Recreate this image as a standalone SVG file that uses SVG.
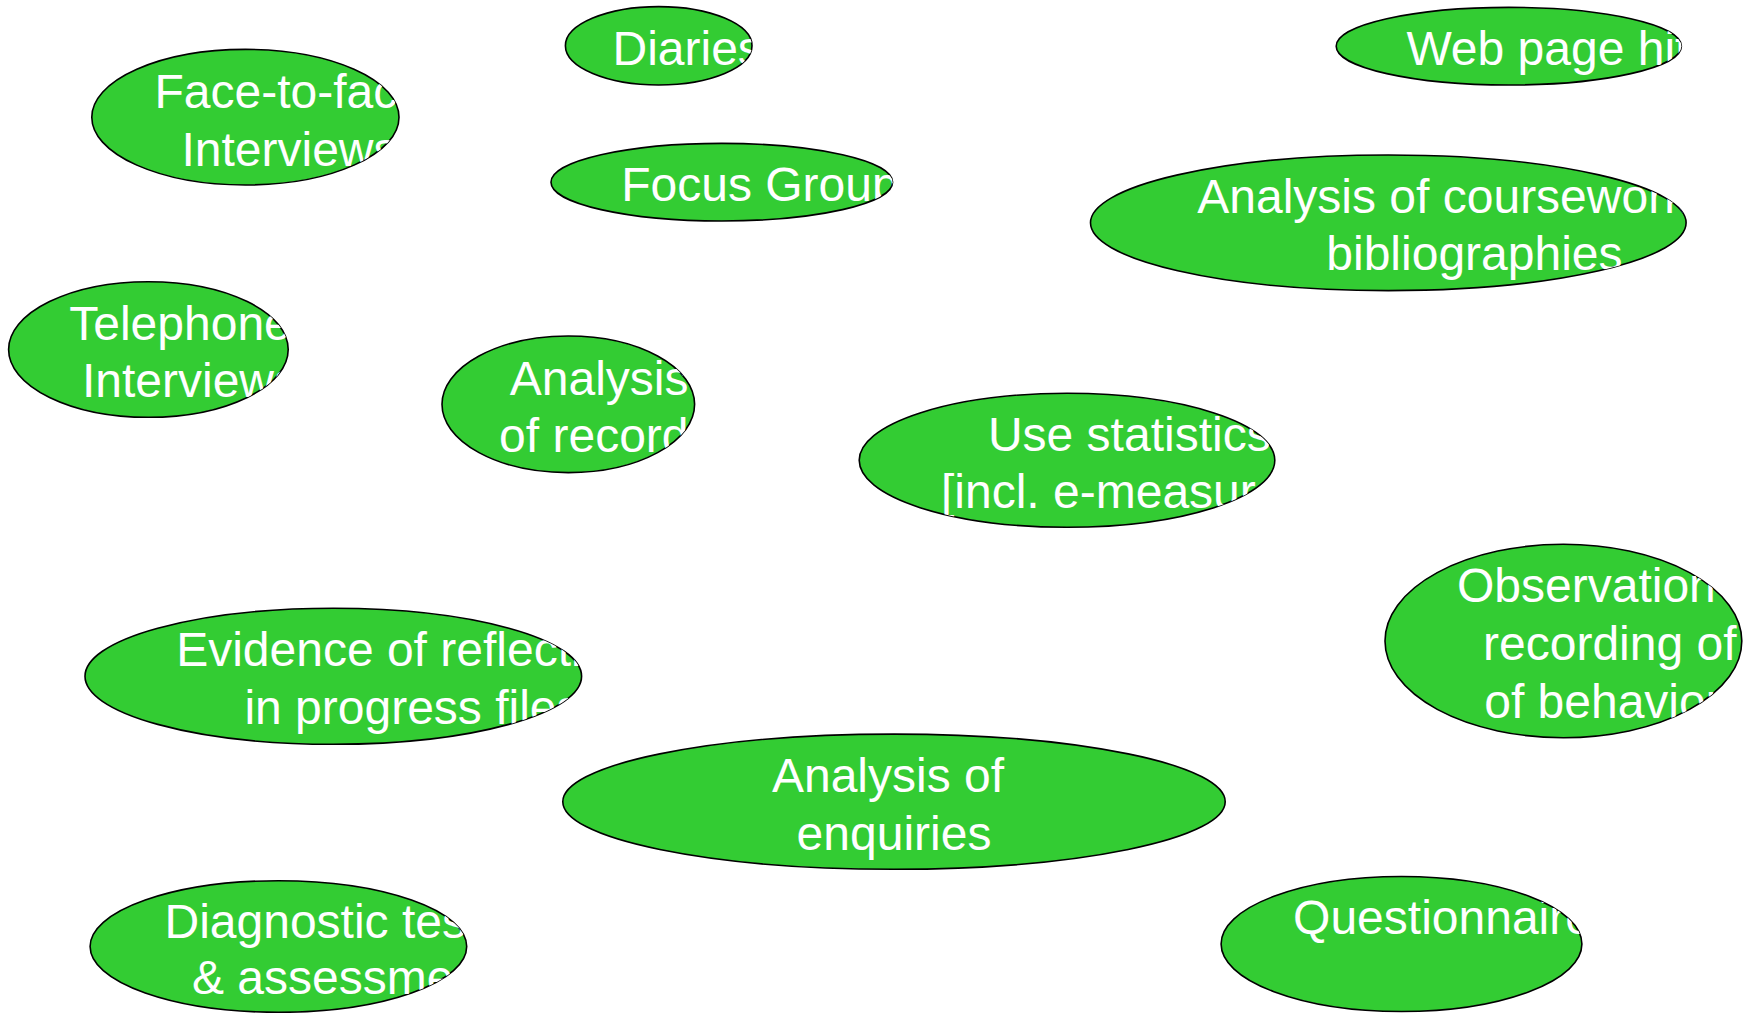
<svg xmlns="http://www.w3.org/2000/svg" width="1752" height="1013" viewBox="0 0 1752 1013">
  <style>
    .node { fill: #33cc33; stroke: #000000; stroke-width: 1.6; }
    .label { font-family: "Liberation Sans", Arial, sans-serif; font-size: 48px; fill: #ffffff; text-anchor: middle; }
  </style>
  <defs>
    <clipPath id="c-face"><ellipse cx="245.4" cy="117.2" rx="153.6" ry="67.8"/></clipPath>
    <clipPath id="c-diaries"><ellipse cx="658.7" cy="45.8" rx="93.3" ry="39.2"/></clipPath>
    <clipPath id="c-focus"><ellipse cx="721.8" cy="182.2" rx="170.8" ry="38.8"/></clipPath>
    <clipPath id="c-web"><ellipse cx="1508.8" cy="46.2" rx="172.6" ry="38.8"/></clipPath>
    <clipPath id="c-course"><ellipse cx="1388.3" cy="222.8" rx="297.8" ry="67.8"/></clipPath>
    <clipPath id="c-phone"><ellipse cx="148.4" cy="349.5" rx="139.8" ry="67.8"/></clipPath>
    <clipPath id="c-records"><ellipse cx="568.3" cy="404.3" rx="126.3" ry="68.3"/></clipPath>
    <clipPath id="c-stats"><ellipse cx="1067" cy="460.3" rx="207.8" ry="67"/></clipPath>
    <clipPath id="c-observe"><ellipse cx="1563.4" cy="641" rx="178.4" ry="96.7"/></clipPath>
    <clipPath id="c-evidence"><ellipse cx="333.3" cy="676.3" rx="248.3" ry="68"/></clipPath>
    <clipPath id="c-enquiries"><ellipse cx="894" cy="801.7" rx="331.2" ry="67.6"/></clipPath>
    <clipPath id="c-diag"><ellipse cx="278.4" cy="946.5" rx="188.3" ry="65.8"/></clipPath>
    <clipPath id="c-quest"><ellipse cx="1401.5" cy="944" rx="180.4" ry="67.5"/></clipPath>
  </defs>

  <rect x="0" y="0" width="1752" height="1013" fill="#ffffff"/>

  <g id="connectors"/>

  <g id="face-to-face">
    <ellipse class="node" cx="245.4" cy="117.2" rx="153.6" ry="67.8"/>
    <g clip-path="url(#c-face)">
      <text class="label" x="289.2" y="107.8">Face-to-face</text>
      <text class="label" x="289.5" y="166">Interviews</text>
    </g>
  </g>

  <g id="diaries">
    <ellipse class="node" cx="658.7" cy="45.8" rx="93.3" ry="39.2"/>
    <g clip-path="url(#c-diaries)">
      <text class="label" x="687.2" y="64.8">Diaries</text>
    </g>
  </g>

  <g id="focus-groups">
    <ellipse class="node" cx="721.8" cy="182.2" rx="170.8" ry="38.8"/>
    <g clip-path="url(#c-focus)">
      <text class="label" x="771.9" y="201.2">Focus Groups</text>
    </g>
  </g>

  <g id="web-page-hits">
    <ellipse class="node" cx="1508.8" cy="46.2" rx="172.6" ry="38.8"/>
    <g clip-path="url(#c-web)">
      <text class="label" x="1559.4" y="65.2">Web page hits</text>
    </g>
  </g>

  <g id="coursework">
    <ellipse class="node" cx="1388.3" cy="222.8" rx="297.8" ry="67.8"/>
    <g clip-path="url(#c-course)">
      <text class="label" x="1465.4" y="213">Analysis of coursework &amp;</text>
      <text class="label" x="1474.4" y="270">bibliographies</text>
    </g>
  </g>

  <g id="telephone">
    <ellipse class="node" cx="148.4" cy="349.5" rx="139.8" ry="67.8"/>
    <g clip-path="url(#c-phone)">
      <text class="label" x="180" y="339.7">Telephone</text>
      <text class="label" x="190" y="397.3">Interviews</text>
    </g>
  </g>

  <g id="records">
    <ellipse class="node" cx="568.3" cy="404.3" rx="126.3" ry="68.3"/>
    <g clip-path="url(#c-records)">
      <text class="label" x="599.1" y="394.5">Analysis</text>
      <text class="label" x="605.8" y="452.1">of records</text>
    </g>
  </g>

  <g id="use-statistics">
    <ellipse class="node" cx="1067" cy="460.3" rx="207.8" ry="67"/>
    <g clip-path="url(#c-stats)">
      <text class="label" x="1129.3" y="450.5">Use statistics</text>
      <text class="label" x="1130.4" y="508.1">[incl. e-measures]</text>
    </g>
  </g>

  <g id="observation">
    <ellipse class="node" cx="1563.4" cy="641" rx="178.4" ry="96.7"/>
    <g clip-path="url(#c-observe)">
      <text class="label" x="1609.1" y="602.4">Observation &amp;</text>
      <text class="label" x="1609.8" y="660">recording of</text>
      <text class="label" x="1616.3" y="717.6">of behaviour</text>
    </g>
  </g>

  <g id="reflection">
    <ellipse class="node" cx="333.3" cy="676.3" rx="248.3" ry="68"/>
    <g clip-path="url(#c-evidence)">
      <text class="label" x="405.6" y="666.3">Evidence of reflection</text>
      <text class="label" x="412.5" y="723.6">in progress files</text>
    </g>
  </g>

  <g id="enquiries">
    <ellipse class="node" cx="894" cy="801.7" rx="331.2" ry="67.6"/>
    <g clip-path="url(#c-enquiries)">
      <text class="label" x="888" y="791.9">Analysis of</text>
      <text class="label" x="894" y="849.5">enquiries</text>
    </g>
  </g>

  <g id="diagnostic">
    <ellipse class="node" cx="278.4" cy="946.5" rx="188.3" ry="65.8"/>
    <g clip-path="url(#c-diag)">
      <text class="label" x="333.9" y="937.5">Diagnostic tests</text>
      <text class="label" x="342.7" y="994.3">&amp; assessment</text>
    </g>
  </g>

  <g id="questionnaires">
    <ellipse class="node" cx="1401.5" cy="944" rx="180.4" ry="67.5"/>
    <g clip-path="url(#c-quest)">
      <text class="label" x="1454.5" y="933.6">Questionnaires</text>
    </g>
  </g>
</svg>
